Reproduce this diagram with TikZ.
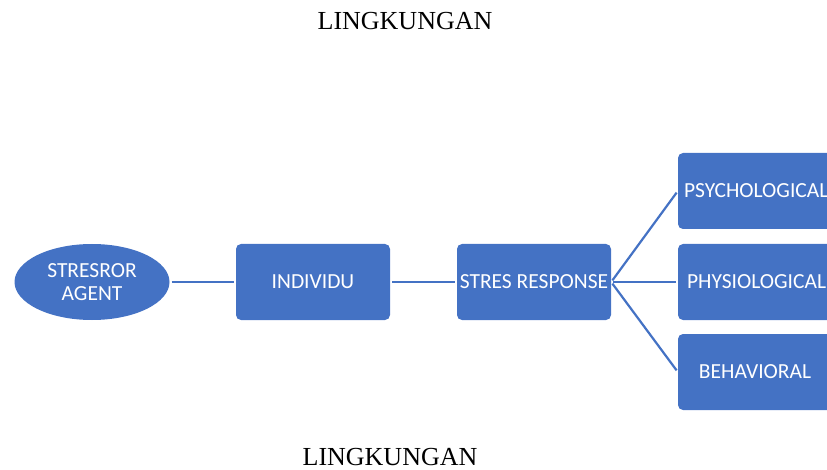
\documentclass[tikz,border=0pt]{standalone}
\usepackage{fontspec}
\usetikzlibrary{shapes.geometric}
\setmainfont{Liberation Serif}
\newfontfamily\boxfont{Carlito}
\definecolor{officeblue}{HTML}{4472C4}
\tikzset{
  stagebox/.style={fill=officeblue, rounded corners=5pt, minimum width=154pt,
    minimum height=76pt, inner sep=0pt, text=white, font=\boxfont\fontsize{21.5}{24}\selectfont},
  link/.style={draw=officeblue, line width=2.2pt, shorten <=2pt, shorten >=2pt}
}
\begin{document}
\begin{tikzpicture}[x=1pt, y=-1pt]
  \useasboundingbox (0,0) rectangle (827,470);
  \clip (0,0) rectangle (827,470);

  \node[font=\fontsize{26}{30}\selectfont] (envtop) at (405,21) {LINGKUNGAN};
  \node[font=\fontsize{26}{30}\selectfont] (envbot) at (390,457) {LINGKUNGAN};

  \node[ellipse, fill=officeblue, minimum width=155pt, minimum height=76pt, inner sep=0pt,
    text=white, align=center, font=\boxfont\fontsize{21.5}{23.5}\selectfont] (agent) at (92,282) {STRESROR\\AGENT};
  \node[stagebox] (indiv) at (313,282) {INDIVIDU};
  \node[stagebox] (resp) at (534,282) {STRES RESPONSE};

  \node[stagebox, text width=154pt, align=left] (psy) at (755,191) {\hspace*{6pt}PSYCHOLOGICAL};
  \node[stagebox, text width=154pt, align=left] (phy) at (755,282) {\hspace*{9pt}PHYSIOLOGICAL};
  \node[stagebox] (beh) at (755,372) {BEHAVIORAL};

  \draw[link] (agent) -- (indiv);
  \draw[link] (indiv) -- (resp);
  \draw[link] (resp.east) -- (psy.west);
  \draw[link] (resp.east) -- (phy.west);
  \draw[link] (resp.east) -- (beh.west);
\end{tikzpicture}
\end{document}
